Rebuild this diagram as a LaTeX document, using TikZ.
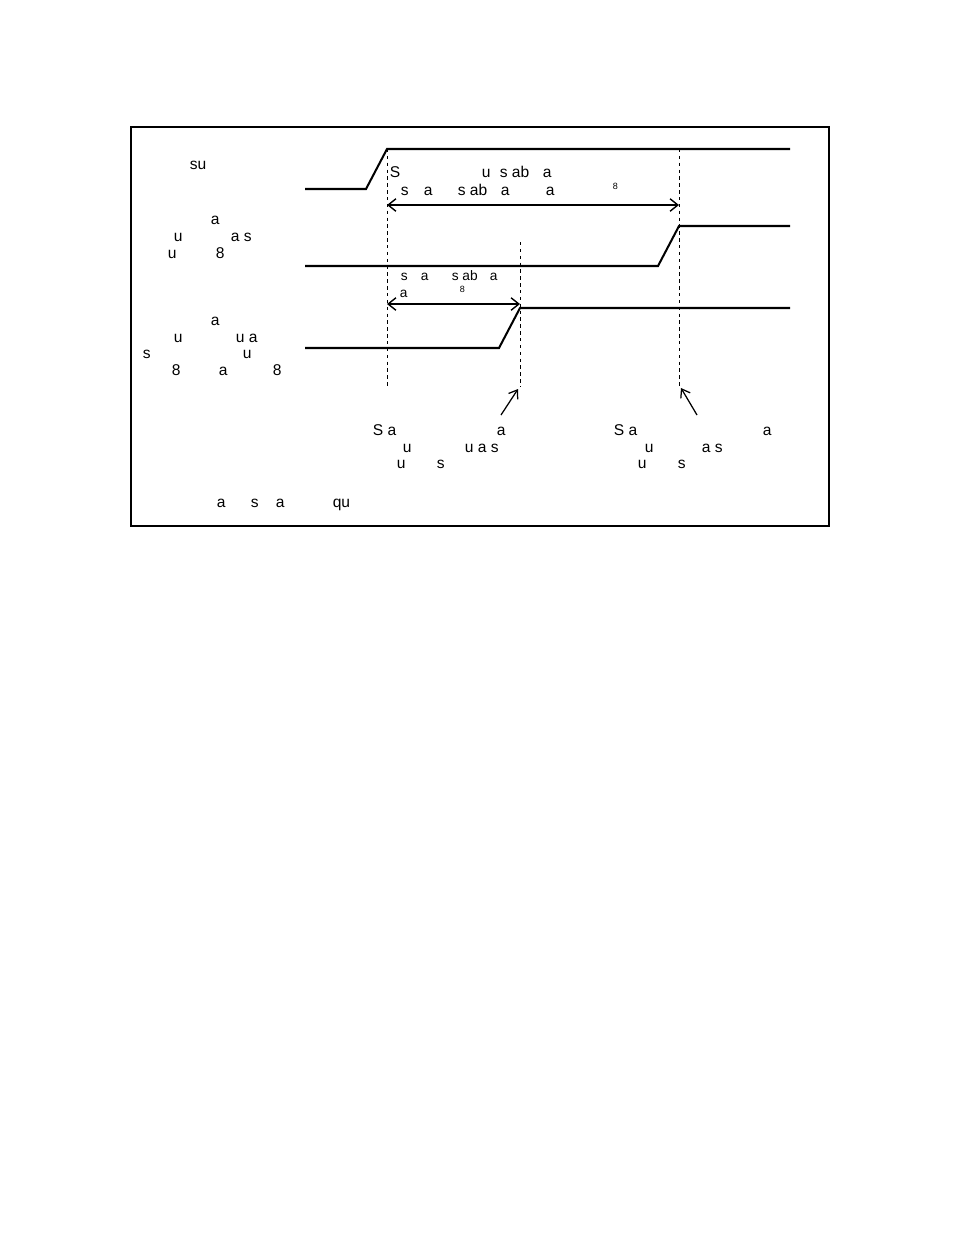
\documentclass[tikz,border=0pt]{standalone}
\usepackage{fontspec}
\setmainfont{Liberation Sans}
\usetikzlibrary{arrows.meta}
\begin{document}
\begin{tikzpicture}[x=0.6415pt,y=-0.6415pt,
  sig/.style={line width=1.3pt,line join=miter},
  frame/.style={line width=1.3pt},
  guide/.style={line width=0.6pt,dash pattern=on 2.2pt off 2.2pt},
  span/.style={line width=0.9pt,{Straight Barb[length=5pt,width=8pt]}-{Straight Barb[length=5pt,width=8pt]}},
  point/.style={line width=0.8pt,-{Straight Barb[length=5pt,width=7pt]}},
  txt/.style={anchor=base west,inner sep=0pt,font=\fontsize{10}{12}\selectfont},
  stxt/.style={anchor=base west,inner sep=0pt,font=\fontsize{8.8}{10}\selectfont},
  sub/.style={anchor=base west,inner sep=0pt,font=\fontsize{5.8}{7}\selectfont}]
\useasboundingbox (0,0) rectangle (954,1235);
\draw[frame] (131,127) rectangle (829,526);
% signals
\draw[sig] (305,189) -- (366,189) -- (387,149) -- (790,149);
\draw[sig] (305,266) -- (658,266) -- (679,226) -- (790,226);
\draw[sig] (305,348) -- (499,348) -- (520,308) -- (790,308);
% guides
\coordinate (g1t) at (387,149); \coordinate (g1b) at (387,387);
\coordinate (g2t) at (679,149); \coordinate (g2b) at (679,387);
\coordinate (g3t) at (520,242); \coordinate (g3b) at (520,387);
\draw[guide] (g1t) -- (g1b);
\draw[guide] (g2t) -- (g2b);
\draw[guide] (g3t) -- (g3b);
% spans
\coordinate (s1a) at (387,205); \coordinate (s1b) at (679,205);
\coordinate (s2a) at (387,304); \coordinate (s2b) at (520,304);
\draw[span] (s1a) -- (s1b);
\draw[span] (s2a) -- (s2b);
% pointers
\coordinate (p1s) at (501,415); \coordinate (p1e) at (518,389);
\coordinate (p2s) at (697,415); \coordinate (p2e) at (681,388);
\draw[point] (p1s) -- (p1e);
\draw[point] (p2s) -- (p2e);
% left labels
\node[txt] (l1) at (189.5,169) {su};
\node[txt] (l2a) at (210.5,224) {a};
\node[txt] (l2b) at (173.5,241) {u};
\node[txt] (l2c) at (230.5,241) {a s};
\node[txt] (l2d) at (167.5,258) {u};
\node[txt] (l2e) at (215.5,258) {8};
\node[txt] (l3a) at (210.5,325) {a};
\node[txt] (l3b) at (173.5,342) {u};
\node[txt] (l3c) at (235.5,342) {u a};
\node[txt] (l3d) at (142.5,358) {s};
\node[txt] (l3e) at (242.5,358) {u};
\node[txt] (l3f) at (171.5,375) {8};
\node[txt] (l3g) at (218.5,375) {a};
\node[txt] (l3h) at (272.5,375) {8};
% top annotation
\node[txt] (t1) at (389.5,177) {S};
\node[txt] (t2) at (481.5,177) {u};
\node[txt] (t3) at (499.5,177) {s ab};
\node[txt] (t4) at (542.5,177) {a};
\node[txt] (t5) at (400.5,195) {s};
\node[txt] (t6) at (423.5,195) {a};
\node[txt] (t7) at (457.5,195) {s ab};
\node[txt] (t8) at (500.5,195) {a};
\node[txt] (t9) at (545.5,195) {a};
\node[sub] (t10) at (612.5,189) {8};
% middle annotation
\node[stxt] (m1) at (400.5,280) {s};
\node[stxt] (m2) at (420.5,280) {a};
\node[stxt] (m3) at (451.5,280) {s ab};
\node[stxt] (m4) at (489.5,280) {a};
\node[stxt] (m5) at (399.5,297) {a};
\node[sub] (m6) at (459.5,292) {8};
% bottom notes
\node[txt] (b1) at (372.5,435) {S a};
\node[txt] (b2) at (496.5,435) {a};
\node[txt] (b3) at (402.5,452) {u};
\node[txt] (b4) at (464.5,452) {u a s};
\node[txt] (b5) at (396.5,468) {u};
\node[txt] (b6) at (436.5,468) {s};
\node[txt] (c1) at (613.5,435) {S a};
\node[txt] (c2) at (762.5,435) {a};
\node[txt] (c3) at (644.5,452) {u};
\node[txt] (c4) at (701.5,452) {a s};
\node[txt] (c5) at (637.5,468) {u};
\node[txt] (c6) at (677.5,468) {s};
% footer
\node[txt] (f1) at (216.5,507) {a};
\node[txt] (f2) at (250.5,507) {s};
\node[txt] (f3) at (275.5,507) {a};
\node[txt] (f4) at (332.5,507) {qu};
\end{tikzpicture}
\end{document}
